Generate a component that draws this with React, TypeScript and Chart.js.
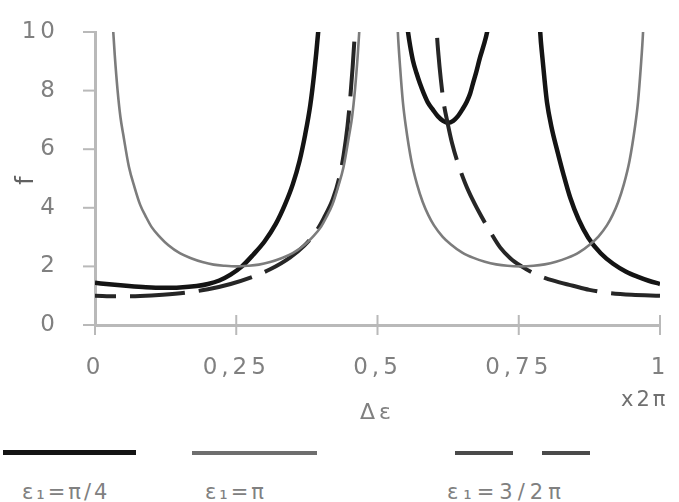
import React, { useEffect, useRef } from 'react';
import { Chart, registerables } from 'chart.js';

Chart.register(...registerables);

// ---------- axis ticks ----------
const xTickValues = [0, 0.25, 0.5, 0.75, 1];
const xTickLabels = ['0', '0,25', '0,5', '0,75', '1'];
const yTickValues = [0, 2, 4, 6, 8, 10];

// ---------- series: ε1 = π/4 (thick black) ----------
const quarterLeftX = [0, 0.03, 0.06, 0.09, 0.12, 0.15, 0.18, 0.2, 0.22, 0.24, 0.26, 0.28, 0.3, 0.32, 0.336, 0.35, 0.362, 0.372, 0.381, 0.388, 0.395, 0.399];
const quarterLeftF = [1.44, 1.38, 1.33, 1.29, 1.27, 1.28, 1.33, 1.4, 1.52, 1.72, 2.0, 2.4, 2.85, 3.45, 4.1, 4.8, 5.6, 6.5, 7.5, 8.6, 10, 11];
const quarterMidX = [0.551, 0.554, 0.558, 0.563, 0.569, 0.575, 0.582, 0.589, 0.598, 0.607, 0.616, 0.625, 0.634, 0.642, 0.65, 0.658, 0.664, 0.669, 0.675, 0.681, 0.688, 0.694, 0.697];
const quarterMidF = [10.5, 10, 9.5, 9.0, 8.6, 8.25, 7.9, 7.6, 7.35, 7.12, 6.97, 6.9, 6.97, 7.12, 7.35, 7.62, 7.9, 8.25, 8.65, 9.1, 9.55, 10, 10.35];
const quarterRightX = [0.786, 0.788, 0.792, 0.796, 0.8, 0.808, 0.818, 0.829, 0.841, 0.856, 0.873, 0.895, 0.917, 0.94, 0.96, 0.98, 1];
const quarterRightF = [10.9, 10, 9.1, 8.3, 7.6, 6.75, 5.96, 5.15, 4.35, 3.6, 2.98, 2.45, 2.09, 1.82, 1.65, 1.51, 1.4];

// ---------- series: ε1 = π (thin grey) ----------
const piLeftX = [0.026, 0.028, 0.03, 0.035, 0.04, 0.045, 0.05, 0.06, 0.07, 0.08, 0.09, 0.1, 0.115, 0.13, 0.15, 0.17, 0.19, 0.21, 0.23, 0.25, 0.27, 0.29, 0.31, 0.33, 0.35, 0.37, 0.385, 0.4, 0.41, 0.42, 0.43, 0.44, 0.45, 0.455, 0.46, 0.465, 0.47, 0.474];
const piLeftF = [12.5, 11.4, 10.7, 9.2, 8.0, 7.1, 6.5, 5.4, 4.7, 4.1, 3.7, 3.35, 3.0, 2.72, 2.45, 2.28, 2.15, 2.06, 2.02, 2.0, 2.02, 2.06, 2.15, 2.28, 2.45, 2.72, 3.0, 3.35, 3.7, 4.1, 4.7, 5.4, 6.5, 7.1, 8.0, 9.2, 10.7, 12];
const piRightX = [0.531, 0.534, 0.536, 0.54, 0.545, 0.55, 0.56, 0.57, 0.58, 0.59, 0.6, 0.615, 0.63, 0.65, 0.67, 0.69, 0.71, 0.73, 0.753, 0.776, 0.796, 0.816, 0.836, 0.856, 0.876, 0.891, 0.906, 0.916, 0.926, 0.936, 0.946, 0.956, 0.961, 0.966, 0.97, 0.972, 0.975];
const piRightF = [12.5, 11, 10, 8.8, 7.6, 6.8, 5.6, 4.8, 4.2, 3.75, 3.4, 3.02, 2.75, 2.47, 2.29, 2.16, 2.07, 2.02, 2.0, 2.02, 2.07, 2.16, 2.29, 2.47, 2.75, 3.02, 3.4, 3.75, 4.2, 4.8, 5.6, 6.8, 7.6, 8.8, 10, 11, 12.5];

// ---------- series: ε1 = 3/2π (dashed) ----------
const threeHalfLeftX = [0, 0.04, 0.08, 0.12, 0.16, 0.2, 0.24, 0.28, 0.31, 0.345, 0.37, 0.39, 0.405, 0.421, 0.432, 0.44, 0.447, 0.452, 0.456, 0.46, 0.463];
const threeHalfLeftF = [1.0, 0.98, 0.99, 1.03, 1.1, 1.22, 1.4, 1.65, 1.9, 2.3, 2.7, 3.15, 3.65, 4.3, 5.0, 5.8, 6.8, 7.8, 8.8, 10, 11];
const threeHalfRightX = [0.603, 0.605, 0.608, 0.612, 0.617, 0.624, 0.632, 0.641, 0.655, 0.669, 0.684, 0.699, 0.717, 0.735, 0.755, 0.775, 0.81, 0.846, 0.875, 0.906, 0.95, 1];
const threeHalfRightF = [11, 10, 9.2, 8.4, 7.6, 6.9, 6.2, 5.6, 4.85, 4.25, 3.7, 3.2, 2.65, 2.28, 2.0, 1.78, 1.52, 1.34, 1.2, 1.1, 1.03, 1.0];

const zip = (xs: number[], ys: number[]) => xs.map((x, i) => ({ x, y: ys[i] }));

const BLACK = { borderColor: '#141414', borderWidth: 4.5 };
const GREY = { borderColor: '#7c7c7c', borderWidth: 2.6 };
const DASH = { borderColor: '#262626', borderWidth: 4, borderDash: [55, 14], borderDashOffset: 34 };

const FONT = "'DejaVu Sans', 'Liberation Sans', Arial, sans-serif";
const AXIS_GREY = '#b9b9b9';
const TEXT_GREY = '#808080';

const crossTicks = {
  id: 'crossTicks',
  beforeDraw(chart: any) {
    chart.ctx.letterSpacing = '4px';
  },
  afterDatasetsDraw(chart: any) {
    const { ctx, scales } = chart;
    const xs = scales.x;
    const ys = scales.y;
    ctx.save();
    ctx.strokeStyle = AXIS_GREY;
    ctx.lineWidth = 2;
    const y0 = ys.getPixelForValue(0);
    xTickValues.forEach((v) => {
      const px = xs.getPixelForValue(v);
      ctx.beginPath();
      ctx.moveTo(px, y0 - 10);
      ctx.lineTo(px, y0 + 10);
      ctx.stroke();
    });
    const x0 = xs.getPixelForValue(0);
    yTickValues.forEach((v) => {
      const py = ys.getPixelForValue(v);
      ctx.beginPath();
      ctx.moveTo(x0 - 12, py);
      ctx.lineTo(x0, py);
      ctx.stroke();
    });
    ctx.restore();
  },
};

function ChartCanvas() {
  const ref = useRef<HTMLCanvasElement | null>(null);
  useEffect(() => {
    if (!ref.current) return;
    const chart = new Chart(ref.current, {
      type: 'line',
      data: {
        datasets: [
          { data: zip(piLeftX, piLeftF), ...GREY },
          { data: zip(piRightX, piRightF), ...GREY },
          { data: zip(threeHalfLeftX, threeHalfLeftF), ...DASH },
          { data: zip(threeHalfRightX, threeHalfRightF), ...DASH },
          { data: zip(quarterLeftX, quarterLeftF), ...BLACK },
          { data: zip(quarterMidX, quarterMidF), ...BLACK },
          { data: zip(quarterRightX, quarterRightF), ...BLACK },
        ].map((d) => ({ ...d, pointRadius: 0, fill: false, cubicInterpolationMode: 'monotone' as const })),
      },
      options: {
        animation: false,
        responsive: false,
        maintainAspectRatio: false,
        layout: { padding: { left: 0, top: 32, right: 19, bottom: 0 } },
        plugins: { legend: { display: false }, tooltip: { enabled: false } },
        scales: {
          x: {
            type: 'linear',
            min: 0,
            max: 1,
            afterFit: (s: any) => {
              s.height = 430 - 325;
              s.paddingLeft = 0;
              s.paddingRight = 0;
            },
            afterBuildTicks: (s: any) => {
              s.ticks = xTickValues.map((v) => ({ value: v }));
            },
            ticks: {
              autoSkip: false,
              maxRotation: 0,
              padding: 29,
              color: TEXT_GREY,
              font: { family: FONT, size: 23 },
              callback: (v: any) => {
                const i = xTickValues.indexOf(Number(v));
                return i >= 0 ? xTickLabels[i] : '';
              },
            },
            grid: { display: false, drawTicks: false },
            border: { display: true, color: AXIS_GREY, width: 3 },
            title: {
              display: true,
              text: 'Δε',
              color: TEXT_GREY,
              font: { family: FONT, size: 22 },
              padding: { top: 0, bottom: 4 },
            },
          },
          y: {
            type: 'linear',
            min: 0,
            max: 10,
            afterFit: (s: any) => {
              s.width = 95;
              s.paddingTop = 0;
              s.paddingBottom = 0;
            },
            afterBuildTicks: (s: any) => {
              s.ticks = yTickValues.map((v) => ({ value: v }));
            },
            ticks: {
              padding: 36,
              color: TEXT_GREY,
              font: { family: FONT, size: 23 },
            },
            grid: { display: false, drawTicks: false },
            border: { display: true, color: AXIS_GREY, width: 3 },
            title: {
              display: true,
              text: 'f',
              color: '#606060',
              font: { family: FONT, size: 24 },
              padding: { top: 12, bottom: 0 },
            },
          },
        },
      },
      plugins: [crossTicks],
    });
    return () => chart.destroy();
  }, []);
  return <canvas ref={ref} width={679} height={430} style={{ position: 'absolute', left: 0, top: 0, width: 679, height: 430 }} />;
}

const legendText: React.CSSProperties = {
  position: 'absolute',
  top: 478,
  fontFamily: FONT,
  fontSize: 21,
  letterSpacing: '3px',
  color: TEXT_GREY,
  whiteSpace: 'nowrap',
  lineHeight: '28px',
};

export default function App() {
  return (
    <div style={{ position: 'absolute', left: 0, top: 0, width: 679, height: 502, background: '#fff', overflow: 'hidden', filter: 'blur(0.7px)' }}>
      <ChartCanvas />
      <div style={{ position: 'absolute', left: 621, top: 385, fontFamily: FONT, fontSize: 21, letterSpacing: '3px', color: '#707070', lineHeight: '28px', whiteSpace: 'nowrap' }}>x2π</div>
      <div style={{ position: 'absolute', left: 3, top: 450, width: 133, height: 5, background: '#141414' }} />
      <div style={{ position: 'absolute', left: 192, top: 451, width: 125, height: 4, background: '#6e6e6e' }} />
      <div style={{ position: 'absolute', left: 455, top: 451, width: 58, height: 4, background: '#4a4a4a' }} />
      <div style={{ position: 'absolute', left: 542, top: 451, width: 48, height: 4, background: '#4a4a4a' }} />
      <div style={{ ...legendText, left: 22 }}>ε₁=π/4</div>
      <div style={{ ...legendText, left: 205 }}>ε₁=π</div>
      <div style={{ ...legendText, left: 447, letterSpacing: '5px' }}>ε₁=3/2π</div>
    </div>
  );
}
